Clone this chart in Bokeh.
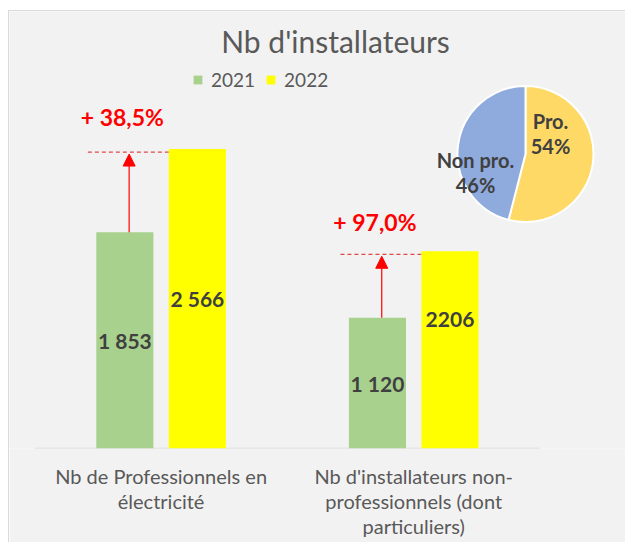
import numpy as np
from bokeh.plotting import figure
from bokeh.models import (Range1d, FixedTicker, Label, Legend, LegendItem, Arrow,
                          NormalHead, ColumnDataSource)
from bokeh.core.properties import value
from bokeh.embed import file_html
from bokeh.resources import INLINE

# ---------------- data ----------------
categories = ["Nb de Professionnels en\nélectricité",
              "Nb d'installateurs non-\nprofessionnels (dont\nparticuliers)"]
years = ["2021", "2022"]
values_2021 = [1853, 1120]
values_2022 = [2566, 2206]
labels_2021 = ["1 853", "1 120"]
labels_2022 = ["2 566", "2206"]
bar_2022_drawn = [2566, 1690]      # yellow bar heights as they appear in the picture
pie_names = ["Pro.", "Non pro."]
pie_shares = [54, 46]

# ---------------- styling / layout ----------------
FONT = "Lato"
GREEN = "#a9d18e"
YELLOW = "#ffff00"
PIE_COLORS = ["#ffd966", "#8faadc"]
BG = "#f2f2f2"
OX, OY = 9, 11                   # page position of the figure's top-left corner
FRAME_W, FRAME_H = 616, 437
X0, DX = 160.6, 252.6            # page x of first category centre, px per category
SY = 0.1167                      # px per unit
BASE = OY + FRAME_H              # page y of the baseline


def px_x(page_x):
    return (page_x - X0) / DX


def px_y(page_y):
    return (BASE - page_y) / SY


p = figure(frame_width=FRAME_W, frame_height=FRAME_H, output_backend="svg",
           toolbar_location=None,
           x_range=Range1d(px_x(OX), px_x(OX + FRAME_W)), y_range=Range1d(0, FRAME_H / SY),
           y_axis_location=None, min_border_left=0, min_border_right=0,
           min_border_top=0, min_border_bottom=542 - OY - FRAME_H)
p.styles = {"margin-left": "8px", "margin-top": "10px",
            "border-left": "1px solid #d9d9d9", "border-top": "1px solid #d9d9d9"}
p.background_fill_color = BG
p.border_fill_color = BG
p.outline_line_color = None
p.xgrid.visible = False
p.ygrid.visible = False

idx = np.arange(len(categories))
OFF, BW = 0.1435, 0.226

ax = p.xaxis[0]
ax.ticker = FixedTicker(ticks=list(idx))
ax.major_label_overrides = {int(i): c for i, c in zip(idx, categories)}
ax.axis_line_color = None
ax.major_tick_line_color = None
ax.minor_tick_line_color = None
ax.major_tick_out = 0
ax.major_label_standoff = 15
ax.major_label_text_font = FONT
ax.major_label_text_font_size = "20px"
ax.major_label_text_color = "#595959"
ax.major_label_text_line_height = 1.05

# baseline across the categories
p.segment(x0=[idx[0] - 0.5], y0=[0], x1=[idx[-1] + 0.5], y1=[0],
          line_color="#d9d9d9", line_width=1.5)

x21 = idx - OFF
x22 = idx + OFF
r21 = p.vbar(x=x21, top=values_2021, width=BW, fill_color=GREEN, line_color=None)
r22 = p.vbar(x=x22, top=bar_2022_drawn, width=BW, fill_color=YELLOW, line_color=None)

# value labels
lab_src = ColumnDataSource(dict(
    x=list(x21) + list(x22),
    y=[v / 2 for v in values_2021] + [v / 2 for v in values_2022],
    t=labels_2021 + labels_2022))
p.text(x="x", y="y", text="t", source=lab_src, text_align="center",
       text_baseline="middle", text_font=value(FONT), text_font_style="bold",
       text_font_size="21px", text_color="#404040")

# growth markers: dashed line, arrow, percentage
dash_y = [v - 3 / SY for v in bar_2022_drawn]
tip_y = [v - 5 / SY for v in bar_2022_drawn]
p.segment(x0=list(idx - 0.29), y0=dash_y, x1=list(idx + 0.03), y1=dash_y,
          line_color="#e04848", line_width=1.2, line_dash="4 3")
for xa, y0, y1 in zip(x21 + 0.017, values_2021, tip_y):
    p.add_layout(Arrow(x_start=xa, y_start=y0, x_end=xa, y_end=y1,
                       line_color="#ff0000", line_width=1.2,
                       end=NormalHead(size=12, fill_color="#ff0000",
                                      line_color="#ff0000", line_width=1)))
growth = [f"+ {(b / a - 1) * 100:.1f}%".replace(".", ",")
          for a, b in zip(values_2021, values_2022)]
p.text(x=list(x21 - 0.01), y=dash_y, text=growth, y_offset=[-35, -32],
       text_align="center", text_baseline="alphabetic", text_font=value(FONT),
       text_font_style="bold", text_font_size="23px", text_color="#ff0000")

# pie inset
shares = np.array(pie_shares, dtype=float) / sum(pie_shares)
cum = np.cumsum(shares) * 2 * np.pi
prev = np.concatenate([[0], cum[:-1]])
pcx, pcy = px_x(525), px_y(153.5)
p.wedge(x=pcx, y=pcy, radius=68, radius_units="screen",
        start_angle=list(np.pi / 2 - cum), end_angle=list(np.pi / 2 - prev),
        fill_color=PIE_COLORS, line_color="white", line_width=2)
pie_txt = [f"{n}\n{s}%" for n, s in zip(pie_names, pie_shares)]
p.text(x=[px_x(550), px_x(475)], y=[px_y(133), px_y(172)], text=pie_txt,
       text_align="center", text_baseline="middle", text_font=value(FONT),
       text_font_style="bold", text_font_size="20px", text_color="#404040",
       text_line_height=1.08)

# title
p.add_layout(Label(x=335 - OX, y=FRAME_H - (40.5 - OY), x_units="screen", y_units="screen",
                   text="Nb d'installateurs", text_align="center",
                   text_baseline="alphabetic", text_font=FONT,
                   text_font_size="30px", text_color="#595959"))

# legend
legend = Legend(items=[LegendItem(label=years[0], renderers=[r21]),
                       LegendItem(label=years[1], renderers=[r22])],
                orientation="horizontal", location=(192 - OX, FRAME_H - (90.5 - OY)),
                glyph_width=11, glyph_height=11, label_standoff=8, spacing=10,
                padding=0, margin=0, border_line_color=None,
                background_fill_alpha=0, label_text_font=FONT,
                label_text_font_size="19px", label_text_color="#595959",
                label_height=20)
p.add_layout(legend, "center")

open("out.html", "w").write(file_html(p, INLINE))
